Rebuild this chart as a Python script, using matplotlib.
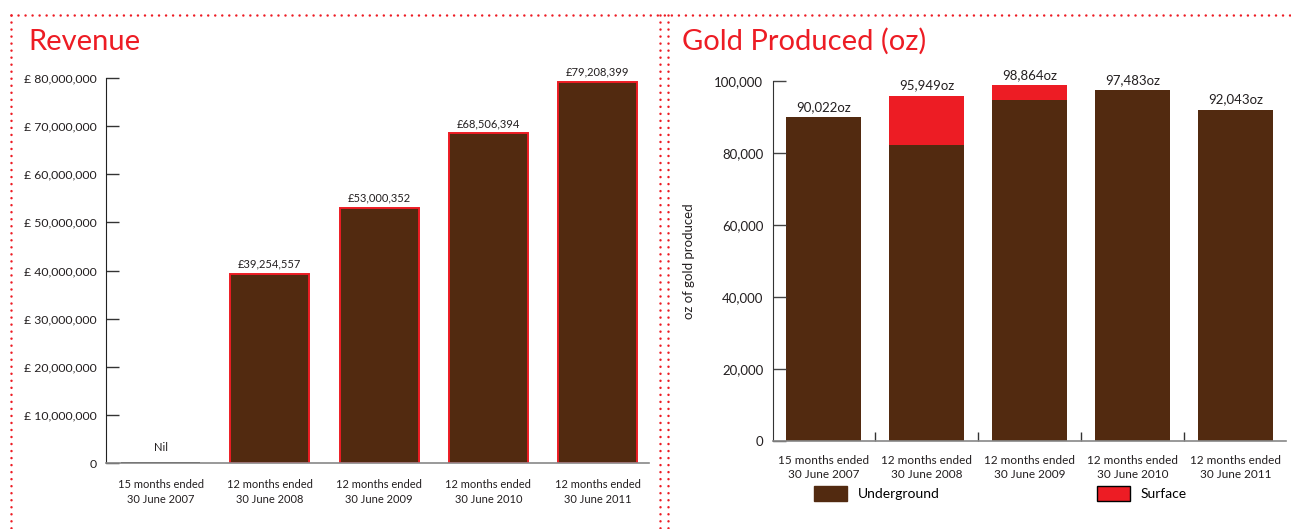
import numpy as np
import matplotlib.pyplot as plt
from matplotlib.lines import Line2D
from matplotlib.patches import Patch

plt.rcParams['font.family'] = ['Lato', 'DejaVu Sans']

# periods shared by both charts
periods = ['15 months ended\n30 June 2007', '12 months ended\n30 June 2008',
           '12 months ended\n30 June 2009', '12 months ended\n30 June 2010',
           '12 months ended\n30 June 2011']

# revenue in GBP (first period: nil)
revenue = [0, 39254557, 53000352, 68506394, 79208399]
revenue_ticks = [0, 10e6, 20e6, 30e6, 40e6, 50e6, 60e6, 70e6, 80e6]

# gold produced, oz
gold_total = [90022, 95949, 98864, 97483, 92043]
gold_underground = [90022, 82200, 94700, 97483, 92043]
gold_ticks = [0, 20000, 40000, 60000, 80000, 100000]

BROWN = '#522A10'
RED = '#ED1C24'
INK = '#231F20'

W, H = 1291, 529
fig = plt.figure(figsize=(W / 100, H / 100), dpi=100)

def px_axes(x0, y_top, x1, y_bot):
    return fig.add_axes([x0 / W, 1 - y_bot / H, (x1 - x0) / W, (y_bot - y_top) / H])

# ---- revenue ----
ax1 = px_axes(106, 78, 649, 463)
x = np.arange(len(periods))
bars = ax1.bar(x, revenue, width=0.725, color=BROWN, edgecolor=RED, linewidth=1.4)
bars[0].set_edgecolor(INK)
ax1.set_xlim(-0.5, 4.47)
ax1.set_ylim(0, 80e6)
ax1.set_yticks(revenue_ticks)
ax1.set_yticklabels(['0'] + ['£ {:,.0f}'.format(v) for v in revenue_ticks[1:]])
ax1.set_xticks(x)
ax1.set_xticklabels(periods, fontsize=8, color=INK, linespacing=1.4)
ax1.tick_params(axis='x', length=0, pad=11.5)
ax1.tick_params(axis='y', direction='in', length=9.5, width=1, colors='#333333',
                labelsize=8.8, labelcolor=INK, pad=6.5)
for s in ['top', 'right']:
    ax1.spines[s].set_visible(False)
ax1.spines['left'].set_color('#222222')
ax1.spines['bottom'].set_color('#888888')
ax1.spines['bottom'].set_linewidth(1.2)
rev_labels = ['Nil'] + ['£{:,}'.format(v) for v in revenue[1:]]
rev_texts = ax1.bar_label(bars, labels=rev_labels, padding=3, fontsize=8, color=INK)
rev_texts[0].xyann = (0, 7)

# ---- gold produced ----
ax2 = px_axes(773, 81, 1286, 441)
gold_surface = [t - u for t, u in zip(gold_total, gold_underground)]
ax2.bar(x, gold_underground, width=0.73, color=BROWN, linewidth=0)
top = ax2.bar(x, gold_surface, bottom=gold_underground, width=0.73, color=RED, linewidth=0)
ax2.set_xlim(-0.49, 4.49)
ax2.set_ylim(0, 100000)
ax2.set_yticks(gold_ticks)
ax2.set_yticklabels(['{:,}'.format(v) for v in gold_ticks])
ax2.set_xticks(x)
ax2.set_xticklabels(periods, fontsize=8.5, color=INK, linespacing=1.35)
ax2.set_xticks(x[:-1] + 0.5, minor=True)
ax2.tick_params(axis='x', which='major', length=0, pad=10)
ax2.tick_params(axis='x', which='minor', direction='in', length=6.5, width=1, color='#333333')
ax2.tick_params(axis='y', direction='in', length=9, width=1, colors='#444444',
                labelsize=9.5, labelcolor=INK, pad=7)
for s in ['top', 'right']:
    ax2.spines[s].set_visible(False)
ax2.spines['left'].set_color('#333333')
ax2.spines['bottom'].set_color('#888888')
ax2.spines['bottom'].set_linewidth(1.2)
ax2.set_ylabel('oz of gold produced', fontsize=9.5, color=INK, labelpad=14)
ax2.bar_label(top, labels=['{:,}oz'.format(v) for v in gold_total], padding=3,
              fontsize=9.5, color=INK)

handles = [Patch(facecolor=BROWN, edgecolor=BROWN, label='Underground'),
           Patch(facecolor=RED, edgecolor='black', label='Surface')]
fig.legend(handles=handles, loc='upper left', bbox_to_anchor=(814 / W, 1 - 486 / H),
           ncol=2, frameon=False, fontsize=10, handlelength=2.4, handleheight=1.3,
           handletextpad=0.75, columnspacing=11.3, borderpad=0, borderaxespad=0)

# ---- titles ----
fig.text(28 / W, 1 - 50 / H, 'Revenue', fontsize=21, color=RED, va='baseline')
fig.text(682 / W, 1 - 50 / H, 'Gold Produced (oz)', fontsize=21, color=RED, va='baseline')

# ---- dotted frames ----
dots = dict(color=RED, linewidth=1.8, linestyle=(0, (0.01, 2.8)),
            dash_capstyle='round', transform=fig.transFigure)
y_top = 1 - 15 / H
fig.add_artist(Line2D([11 / W, 1.0], [y_top, y_top], **dots))
for xp in [11, 660, 668]:
    fig.add_artist(Line2D([xp / W, xp / W], [y_top, 0], **dots))

fig.savefig('out.png', dpi=100)
